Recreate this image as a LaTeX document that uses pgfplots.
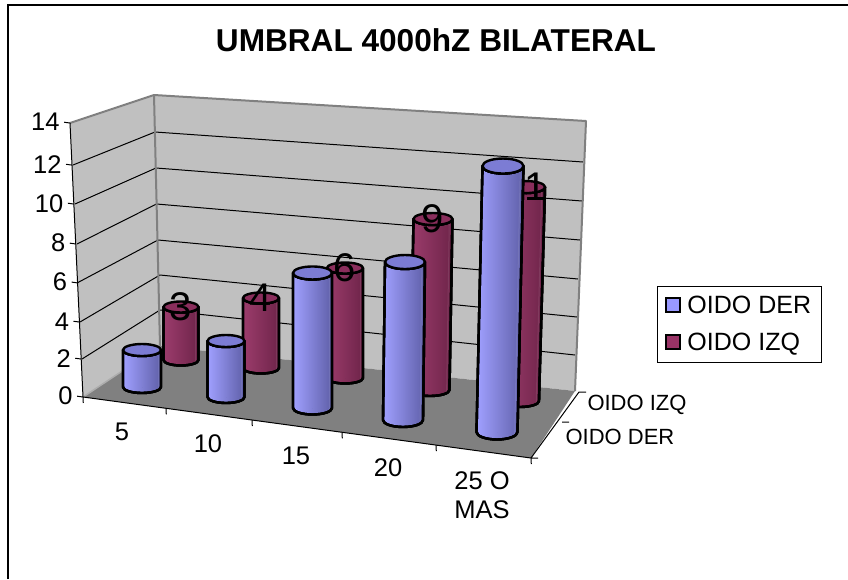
\documentclass[border=0pt]{standalone}
\usepackage{pgfplots}
\usepackage{pgfplotstable}
\usepackage{fontspec}
\setmainfont{Liberation Sans}
\pgfplotsset{compat=1.18}

\definecolor{wallgray}{HTML}{C0C0C0}
\definecolor{floorgray}{HTML}{808080}
\definecolor{derbase}{HTML}{9999FF}
\definecolor{derlight}{HTML}{A0A0FF}
\definecolor{derdark}{HTML}{5F5FA8}
\definecolor{dercap}{HTML}{7C7CD4}
\definecolor{izqbase}{HTML}{993366}
\definecolor{izqlight}{HTML}{9C3C6C}
\definecolor{izqdark}{HTML}{6E2449}
\definecolor{izqcap}{HTML}{8A2E5C}

% x, y: centre of the cylinder foot in the page; unit: drawn height of one count;
% lean: sideways drift per count; hw, ry: half width and ellipse depth
\pgfplotstableread{
x     y    value unit   lean  hw    ry
181   360  3     17.67  0     17.5  5.5
261   368  4     17.5   0     18    5.5
345   378  6     18.33  0     18    5.5
430   390  9     19     0.33  19.5  6
520   401  11    19.45  0.55  19    6
}\oidoizq
\pgfplotstableread{
x     y    value unit   lean  hw    ry
142   387  2     18.5   0     19    6
226   397  3     18.67  0     18.5  6
312.5 408  7     19.29  0     19.5  6.5
403   420  8     19.75  0.25  20    7
497   432  13    20.46  0.46  20.5  7.5
}\oidoder

\pgfplotsset{
  cylinders/.style n args={4}{
    /utils/exec={\def\cylA{#1}\def\cylB{#2}\def\cylC{#3}\def\cylD{#4}},
    cylinder body,
  },
  cylinder body/.style={
    forget plot, only marks, scatter, point meta=\thisrow{value},
    mark=*, mark size=0pt, mark options={draw=none,fill=none},
    visualization depends on={\thisrow{value}*\thisrow{unit}\as\cylh},
    visualization depends on={\thisrow{value}*\thisrow{lean}\as\cyld},
    visualization depends on={\thisrow{hw}\as\cylw},
    visualization depends on={\thisrow{ry}\as\cylr},
    scatter/@pre marker code/.code={%
      \begin{scope}[x=1pt,y=1pt,line width=2.4pt,line join=round]
        \pgfmathsetmacro\xr{\cyld+\cylw}
        \def\cylside{(-\cylw,0) arc[start angle=180,end angle=360,x radius=\cylw pt,y radius=\cylr pt]
          -- (\xr,\cylh)
          arc[start angle=360,end angle=180,x radius=\cylw pt,y radius=\cylr pt]
          -- cycle}
        \path[left color=\cylA,middle color=\cylB,right color=\cylC] \cylside;
        % fine vertical ribbing of the shaded side
        \begin{scope}
          \clip \cylside;
          \pgfmathsetmacro\cylwm{\cylw-3}
          \pgfmathsetmacro\cyltop{\cylh+8}
          \foreach \rib in {-\cylw,\cylwm,...,\cylw} {
            \draw[white,opacity=0.09,line width=1pt] (\rib,-10) -- (\rib+\cyld,\cyltop);
          }
        \end{scope}
        \path[draw=black] \cylside;
        \path[draw=black,fill=\cylD] (\cyld,\cylh) ellipse[x radius=\cylw pt,y radius=\cylr pt];
    },
    scatter/@post marker code/.code={\end{scope}},
  },
}

\begin{document}
\begin{tikzpicture}
\path[use as bounding box] (0,0) rectangle (848pt,579pt);
\begin{axis}[
  at={(0,0)}, anchor=south west,
  x=1pt, y=1pt, y dir=reverse,
  xmin=0, xmax=848, ymin=0, ymax=579,
  hide axis, clip=false,
  title={\fontsize{31.6}{32}\selectfont\bfseries UMBRAL 4000hZ BILATERAL},
  title style={at={(436/848,1-46/579)},anchor=center,inner sep=0pt},
  legend style={at={(657/848,1-286/579)},anchor=north west,draw=black,line width=1pt,
    font=\fontsize{25}{25}\selectfont,inner xsep=8pt,inner ysep=8pt,
    row sep=14pt,cells={anchor=west}},
  legend cell align=left,
]
% Walls and floor of the box
\addplot[forget plot,fill=wallgray,draw=none] coordinates {(70,123)(154,95)(160,346)(83,397)} --cycle;
\addplot[forget plot,fill=wallgray,draw=none] coordinates {(154,95)(586,121)(575,391)(160,346)} --cycle;
\addplot[forget plot,fill=floorgray,draw=none] coordinates {(83,397)(160,346)(575,391)(531,458)} --cycle;
% Gridlines across the two walls
\addplot[forget plot,black,line width=1pt,unbounded coords=jump] coordinates {
 (82,359)(160,310)(575,355) (nan,nan)
 (80,322)(160,275)(577,317) (nan,nan)
 (77,283)(158,240)(578,279) (nan,nan)
 (77,244)(156.5,204)(580,240) (nan,nan)
 (75,204)(156,168)(582,201) (nan,nan)
 (73,165)(155,132)(583,162)
};
% Wall edges
\addplot[forget plot,floorgray,line width=2pt,line join=round] coordinates {(70,123)(154,95)(586,121)(575,391)};
\addplot[forget plot,floorgray,line width=2pt] coordinates {(154,95)(160,346)};
\addplot[forget plot,wallgray!70!floorgray,line width=1.5pt] coordinates {(83,397)(160,346)};
% Depth edge of the floor with its two ticks
\addplot[forget plot,black,line width=1pt,unbounded coords=jump] coordinates {
 (531,458)(579,392)(586,392) (nan,nan)
 (562,422)(569,422) (nan,nan)
 (531,458)(538,458)
};
% Rear series, its value labels, then the front series
\addplot[cylinders={izqlight}{izqbase}{izqdark}{izqcap}] table[x=x,y=y] {\oidoizq};
\addplot[forget plot,only marks,mark=none,point meta=explicit symbolic,
  nodes near coords={\pgfplotspointmeta},
  every node near coord/.style={anchor=center,inner sep=0pt,font=\fontsize{40}{40}\selectfont}]
  table[x expr=\thisrow{x}+\thisrow{value}*\thisrow{lean}-0.5,
        y expr=\thisrow{y}-\thisrow{value}*\thisrow{unit},meta=value] {\oidoizq};
\addplot[cylinders={derlight}{derbase}{derdark}{dercap}] table[x=x,y=y] {\oidoder};
% Depth axis names
\node[font=\fontsize{22}{22}\selectfont] at (axis cs:637,405) {OIDO IZQ};
\node[font=\fontsize{22}{22}\selectfont] at (axis cs:620,437) {OIDO DER};
% Outer frame of the chart, open towards the right and the bottom
\draw[black,line width=1.6pt] (axis cs:8,579) -- (axis cs:8,5) -- (axis cs:848,5);
% Legend
\addlegendimage{legend image code/.code={\draw[black,line width=2pt,fill=derbase] (0pt,-6pt) rectangle (14pt,8pt);\path[draw=none,fill=none] (0pt,0pt) rectangle (19pt,1pt);}}
\addlegendentry{OIDO DER}
\addlegendimage{legend image code/.code={\draw[black,line width=2pt,fill=izqbase] (0pt,-6pt) rectangle (14pt,8pt);\path[draw=none,fill=none] (0pt,0pt) rectangle (19pt,1pt);}}
\addlegendentry{OIDO IZQ}
\end{axis}
% Value axis on the front wall edge and category axis on the front floor edge
\begin{axis}[
  at={(83pt,182pt)}, anchor=origin,
  x={(1pt,-0.1362pt)}, y={(-0.9286pt,19.57pt)},
  xmin=0, xmax=448, ymin=0, ymax=14,
  axis x line=bottom, axis y line=left, axis line style={-,black,line width=1pt},
  ytick={0,1.94,3.83,5.83,7.82,9.86,11.85,14},
  yticklabels={0,2,4,6,8,10,12,14},
  xtick={0,83,169,259,353,448}, xticklabels={},
  extra x ticks={39,125,213,305,399},
  extra x tick labels={5,10,15,20,{25 O\\MAS}},
  extra x tick style={major tick length=0pt,
    xticklabel style={align=center,anchor=north,yshift=-17pt,font=\fontsize{25.5}{29}\selectfont}},
  tick style={black,line width=1pt},
  major tick length=6pt,
  ticklabel style={font=\fontsize{25.5}{25.5}\selectfont},
  yticklabel style={anchor=east,xshift=-1pt},
  tick align=outside,
]
\addplot[draw=none,forget plot] coordinates {(0,0)(448,14)};
\end{axis}
\end{tikzpicture}
\end{document}
